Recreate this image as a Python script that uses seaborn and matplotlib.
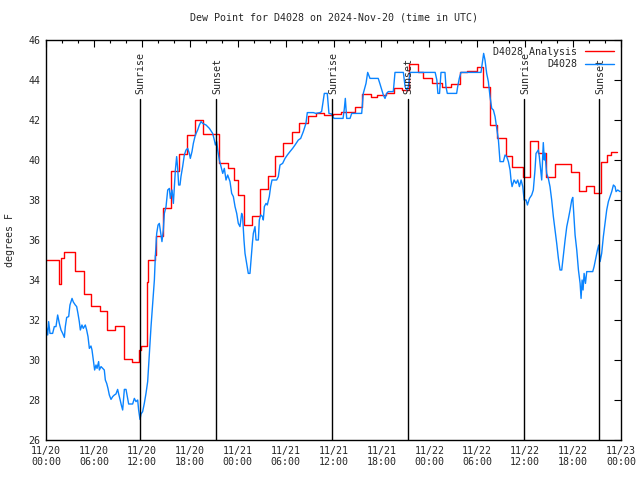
import matplotlib
matplotlib.use("Agg")
import matplotlib.pyplot as plt
import matplotlib.transforms as mtransforms
import seaborn as sns
import pandas as pd

# hours since 2024-11-20 00:00 UTC
red_t = [0.0, 1.6, 1.9, 2.2, 3.6, 4.7, 5.65, 6.7, 7.7, 8.7, 9.75, 10.8, 11.7, 11.85,
         12.65, 12.8, 13.6, 13.8, 14.7, 15.65, 16.7, 17.7, 18.7, 19.6, 21.7, 22.85,
         23.6, 24.0, 24.75, 25.8, 26.8, 27.75, 28.7, 29.65, 30.75, 31.7, 32.75, 33.75,
         34.8, 35.9, 37.0, 38.7, 39.6, 40.7, 41.5, 42.6, 43.6, 44.6, 45.4, 46.6, 47.2,
         48.3, 49.6, 50.7, 51.9, 52.75, 54.0, 54.7, 55.6, 56.5, 57.6, 58.4, 59.7, 60.6,
         61.55, 62.6, 63.7, 65.8, 66.7, 67.6, 68.6, 69.55, 70.2, 70.7, 71.5]
red_v = [35.0, 33.8, 35.1, 35.4, 34.45, 33.3, 32.7, 32.45, 31.5, 31.7, 30.05, 29.9, 30.5, 30.7,
         33.9, 35.0, 35.25, 36.2, 37.6, 39.45, 40.3, 41.25, 42.0, 41.3, 39.87, 39.6,
         39.0, 38.25, 36.75, 37.2, 38.55, 39.2, 40.2, 40.87, 41.42, 41.83, 42.2, 42.33,
         42.25, 42.3, 42.4, 42.63, 43.3, 43.17, 43.25, 43.35, 43.6, 43.5, 44.8, 44.4, 44.08,
         43.83, 43.67, 43.8, 44.38, 44.47, 44.67, 43.67, 41.75, 41.08, 40.2, 39.67, 39.13, 40.97,
         40.33, 39.13, 39.8, 39.42, 38.47, 38.7, 38.37, 39.92, 40.25, 40.38, 40.38]

blue_t = [0.0, 0.21, 0.33, 0.5, 0.83, 1.04, 1.25, 1.46, 1.67, 1.88, 2.09, 2.3, 2.42, 2.59,
          2.84, 3.0, 3.26, 3.42, 3.67, 3.84, 4.0, 4.17, 4.3, 4.5, 4.67, 4.92, 5.09, 5.26,
          5.43, 5.63, 5.76, 5.93, 6.09, 6.26, 6.39, 6.59, 6.68, 6.89, 7.1, 7.3, 7.43, 7.6,
          7.76, 7.93, 8.14, 8.35, 8.56, 8.76, 8.97, 9.1, 9.27, 9.43, 9.6, 9.81, 10.02, 10.18,
          10.35, 10.85, 11.06, 11.27, 11.48, 11.6, 11.77, 11.9, 12.1, 12.31, 12.52, 12.73,
          12.94, 13.15, 13.36, 13.57, 13.69, 13.86, 14.03, 14.19, 14.4, 14.52, 14.69, 14.82,
          15.03, 15.24, 15.45, 15.57, 15.78, 15.95, 16.07, 16.2, 16.36, 16.49, 16.61, 16.78,
          16.9, 17.11, 17.32, 17.53, 17.74, 17.95, 18.07, 18.28, 18.45, 18.7, 18.99, 19.2,
          19.41, 19.62, 20.04, 20.46, 20.87, 21.08, 21.21, 21.37, 21.5, 21.71, 21.92, 22.13,
          22.33, 22.54, 22.75, 23.04, 23.25, 23.46, 23.67, 23.88, 24.08, 24.29, 24.5, 24.62,
          24.79, 24.92, 25.13, 25.33, 25.54, 25.67, 25.84, 25.96, 26.17, 26.3, 26.59, 26.71,
          26.88, 27.13, 27.21, 27.34, 27.55, 27.71, 27.96, 28.13, 28.3, 28.88, 29.09, 29.3,
          29.63, 29.93, 30.22, 30.55, 30.88, 31.18, 31.6, 31.89, 32.22, 32.55, 32.72, 33.47,
          33.8, 34.3, 34.51, 34.72, 34.85, 35.22, 35.43, 35.76, 36.06, 37.2, 37.36, 37.48,
          37.65, 38.07, 38.28, 39.53, 39.73, 40.07, 40.28, 40.57, 41.6, 41.8, 42.24, 42.45,
          42.66, 42.86, 43.49, 43.7, 44.75, 44.96, 45.17, 45.38, 45.58, 48.73, 48.94, 49.07,
          49.28, 49.46, 49.96, 50.08, 50.25, 51.42, 51.55, 51.75, 51.96, 54.47, 54.68, 54.8,
          54.97, 55.18, 55.39, 55.6, 55.81, 56.02, 56.23, 56.44, 56.65, 56.77, 56.85, 57.27,
          57.48, 57.69, 57.9, 58.11, 58.23, 58.36, 58.61, 58.86, 59.07, 59.28, 59.49, 59.7,
          59.87, 60.12, 60.28, 60.54, 60.82, 61.02, 61.23, 61.36, 61.52, 61.65, 61.77, 61.94,
          62.07, 62.19, 62.27, 62.4, 62.48, 62.69, 62.9, 63.11, 63.32, 63.53, 63.74, 63.95,
          64.16, 64.37, 64.58, 64.79, 65.0, 65.21, 65.42, 65.62, 65.83, 65.96, 66.13, 66.25,
          66.46, 66.67, 66.88, 67.0, 67.13, 67.25, 67.38, 67.55, 67.71, 68.46, 68.63, 68.88,
          69.05, 69.21, 69.38, 69.58, 69.79, 70.0, 70.21, 70.42, 70.63, 70.84, 71.05, 71.26,
          71.38, 71.59, 71.88]
blue_v = [31.75, 31.25, 31.92, 31.33, 31.33, 31.67, 31.67, 32.25, 31.83, 31.5, 31.33, 31.13, 31.67, 32.13,
          32.17, 32.75, 33.08, 32.9, 32.75, 32.67, 32.33, 31.92, 31.5, 31.75, 31.58, 31.75, 31.5, 31.17,
          30.58, 30.7, 30.5, 30.0, 29.5, 29.75, 29.58, 29.92, 29.5, 29.67, 29.58, 29.5, 29.0, 28.83,
          28.58, 28.25, 28.03, 28.17, 28.25, 28.3, 28.53, 28.3, 28.03, 27.75, 27.5, 28.53, 28.53, 28.17,
          27.8, 27.8, 28.08, 27.92, 28.0, 27.5, 27.03, 27.3, 27.42, 27.83, 28.33, 28.92,
          30.33, 31.67, 32.83, 34.0, 35.17, 36.33, 36.75, 36.83, 36.25, 35.92, 36.5, 37.33,
          37.67, 38.5, 38.58, 38.08, 38.5, 37.83, 38.67, 39.5, 40.17, 39.58, 38.75, 38.75,
          39.17, 39.67, 40.25, 40.5, 40.58, 40.33, 40.08, 40.42, 40.83, 41.25, 41.5, 41.75,
          41.92, 41.83, 41.75, 41.58, 41.33, 41.0, 40.75, 40.92, 40.5, 40.0, 39.67, 39.33,
          39.58, 39.0, 39.25, 38.92, 38.33, 38.17, 37.67, 37.33, 36.83, 36.67, 37.33, 37.17,
          36.0, 35.33, 34.83, 34.33, 34.33, 35.0, 35.83, 36.33, 36.67, 36.0, 36.0, 37.0,
          37.25, 37.17, 37.0, 37.67, 37.83, 37.75, 38.17, 38.67, 39.0, 39.0, 39.17, 39.75,
          39.83, 40.08, 40.25, 40.42, 40.58, 40.75, 41.0, 41.08, 41.42, 41.83, 42.37, 42.37,
          42.33, 42.37, 42.42, 43.0, 43.33, 43.33, 42.33, 42.3, 42.08, 42.08, 42.58, 43.08,
          42.08, 42.08, 42.33, 42.33, 43.33, 43.83, 44.38, 44.08, 44.08, 43.83, 43.25, 43.08,
          43.33, 43.42, 43.42, 44.38, 44.38, 43.67, 43.5, 43.67, 44.38, 44.38, 44.0, 43.33,
          43.33, 44.38, 44.38, 43.67, 43.33, 43.33, 43.67, 44.08, 44.38, 44.38, 45.0, 45.33,
          45.0, 44.33, 43.92, 43.17, 42.58, 42.5, 42.17, 41.58, 41.0, 40.33, 39.92, 39.92,
          40.25, 40.17, 39.92, 39.5, 39.0, 38.67, 39.0, 38.83, 39.0, 38.67, 39.0, 38.67,
          38.0, 38.0, 37.75, 38.08, 38.25, 38.5, 39.5, 40.33, 40.42, 40.5, 40.17, 39.5,
          39.0, 40.17, 40.87, 40.0, 40.33, 39.33, 39.08, 38.67, 38.0, 37.17, 36.5, 35.83,
          35.08, 34.5, 34.5, 35.25, 36.0, 36.67, 37.08, 37.5, 38.0, 38.13, 37.0, 36.25,
          35.5, 34.5, 33.83, 33.08, 34.0, 33.5, 34.33, 33.83, 34.42, 34.42, 34.67, 35.17,
          35.5, 35.75, 34.92, 35.33, 36.17, 36.83, 37.5, 37.92, 38.17, 38.42, 38.75, 38.67,
          38.42, 38.5, 38.42]

sunrise_t = [11.78, 35.83, 59.88]
sunset_t = [21.3, 45.27, 69.27]

tick_hours = list(range(0, 73, 6))
tick_labels = ["11/20\n00:00", "11/20\n06:00", "11/20\n12:00", "11/20\n18:00",
               "11/21\n00:00", "11/21\n06:00", "11/21\n12:00", "11/21\n18:00",
               "11/22\n00:00", "11/22\n06:00", "11/22\n12:00", "11/22\n18:00",
               "11/23\n00:00"]

sns.set_style("white")
plt.rcParams['font.family'] = ['DejaVu Sans Mono', 'DejaVu Sans']
plt.rcParams['font.size'] = 7.2

red_df = pd.DataFrame({"hour": red_t, "dewpoint": red_v})
blue_df = pd.DataFrame({"hour": blue_t, "dewpoint": blue_v})

fig = plt.figure(figsize=(6.4, 4.8), dpi=100)
ax = fig.add_axes([46 / 640, 40 / 480, 575 / 640, 400 / 480])

sns.lineplot(data=red_df, x="hour", y="dewpoint", ax=ax, color="#ff0000",
             lw=1.0, drawstyle="steps-post", label="D4028 Analysis")
sns.lineplot(data=blue_df, x="hour", y="dewpoint", ax=ax, color="#0a84ff",
             lw=1.0, label="D4028")

trans = mtransforms.blended_transform_factory(ax.transData, ax.transAxes)
for t in sunrise_t:
    ax.axvline(t, ymin=0, ymax=0.8525, color="black", lw=1.0)
    ax.text(t + 0.1, 0.865, "Sunrise", rotation=90, ha="center", va="bottom",
            transform=trans, fontsize=7.2)
for t in sunset_t:
    ax.axvline(t, ymin=0, ymax=0.8525, color="black", lw=1.0)
    ax.text(t + 0.1, 0.865, "Sunset", rotation=90, ha="center", va="bottom",
            transform=trans, fontsize=7.2)

ax.set_xlim(0, 72)
ax.set_ylim(26, 46)
ax.set_xticks(tick_hours)
ax.set_xticklabels(tick_labels)
ax.set_xticks(range(0, 73, 2), minor=True)
ax.set_yticks(range(26, 47, 2))
ax.tick_params(axis="both", which="major", direction="in", length=5, width=0.8,
               top=True, right=True, color="black", labelsize=7.2, pad=4)
ax.tick_params(axis="x", which="minor", direction="in", length=2.5, width=0.8,
               top=True, color="black")
for s in ax.spines.values():
    s.set_color("black")
    s.set_linewidth(1.0)

ax.set_xlabel("")
ax.set_ylabel("degrees F", fontsize=7.2, labelpad=10)
ax.set_title("Dew Point for D4028 on 2024-Nov-20 (time in UTC)", fontsize=7.2, pad=14)

ax.legend(loc="upper right", frameon=False, markerfirst=False, handlelength=2.9,
          fontsize=7.2, labelspacing=0.25, borderaxespad=0.3, handletextpad=0.8)

fig.savefig("out.png", dpi=100)
